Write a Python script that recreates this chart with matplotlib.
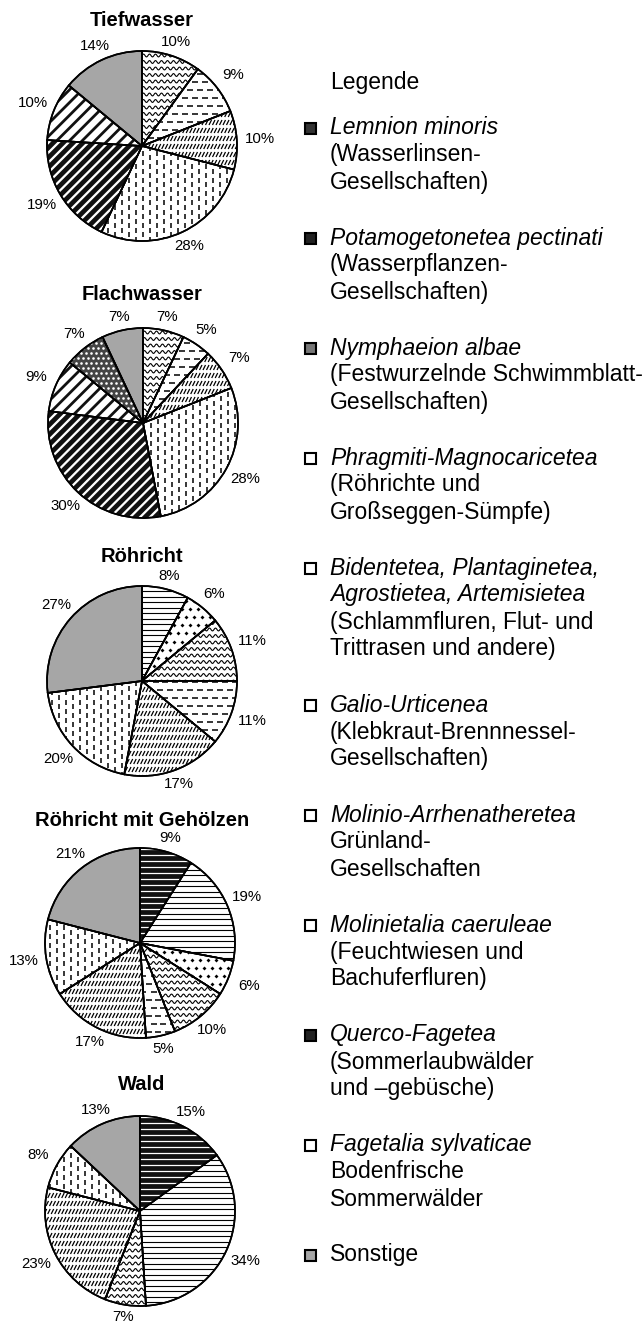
"""Vegetation classes per habitat: five hatched pies with a text legend."""

import matplotlib

matplotlib.use("Agg")
import matplotlib.pyplot as plt
import numpy as np
from matplotlib.collections import LineCollection
from matplotlib.patches import Rectangle, Wedge

plt.rcParams["font.family"] = ["Liberation Sans", "DejaVu Sans"]

# --- data ---------------------------------------------------------------
categories = [
    "Lemnion minoris",
    "Potamogetonetea pectinati",
    "Nymphaeion albae",
    "Phragmiti-Magnocaricetea",
    "Bidentetea, Plantaginetea, Agrostietea, Artemisietea",
    "Galio-Urticenea",
    "Molinio-Arrhenatheretea",
    "Molinietalia caeruleae",
    "Querco-Fagetea",
    "Fagetalia sylvaticae",
    "Sonstige",
]
# clockwise drawing order of the slices (indices into categories)
pie_order = [8, 9, 7, 6, 4, 5, 3, 1, 2, 0, 10]

titles = ["Tiefwasser", "Flachwasser", "Röhricht", "Röhricht mit Gehölzen", "Wald"]
tiefwasser = [0, 19, 10, 28, 9, 10, 10, 0, 0, 0, 14]
flachwasser = [7, 30, 9, 28, 5, 7, 7, 0, 0, 0, 7]
roehricht = [0, 0, 0, 20, 11, 17, 11, 6, 0, 8, 27]
roehricht_gehoelze = [0, 0, 0, 13, 5, 17, 10, 6, 9, 19, 21]
wald = [0, 0, 0, 8, 0, 23, 7, 0, 15, 34, 13]
series = [tiefwasser, flachwasser, roehricht, roehricht_gehoelze, wald]

legend_italic = [
    ["Lemnion minoris"],
    ["Potamogetonetea pectinati"],
    ["Nymphaeion albae"],
    ["Phragmiti-Magnocaricetea"],
    ["Bidentetea, Plantaginetea,", "Agrostietea, Artemisietea"],
    ["Galio-Urticenea"],
    ["Molinio-Arrhenatheretea"],
    ["Molinietalia caeruleae"],
    ["Querco-Fagetea"],
    ["Fagetalia sylvaticae"],
    [],
]
legend_plain = [
    ["(Wasserlinsen-", "Gesellschaften)"],
    ["(Wasserpflanzen-", "Gesellschaften)"],
    ["(Festwurzelnde Schwimmblatt-", "Gesellschaften)"],
    ["(Röhrichte und", "Großseggen-Sümpfe)"],
    ["(Schlammfluren, Flut- und", "Trittrasen und andere)"],
    ["(Klebkraut-Brennnessel-", "Gesellschaften)"],
    ["Grünland-", "Gesellschaften"],
    ["(Feuchtwiesen und", "Bachuferfluren)"],
    ["(Sommerlaubwälder", "und –gebüsche)"],
    ["Bodenfrische", "Sommerwälder"],
    ["Sonstige"],
]

# pattern per category
patterns = ["dots", "darkdiag", "whitediag", "vdash", "hdash", "slant",
            "wavy", "diamond", "darkh", "hlines", "gray"]
icon_face = ["#333333", "#222222", "#777777", "white", "white", "white",
             "white", "white", "#222222", "white", "#a6a6a6"]

# --- layout (pixels) ----------------------------------------------------
W, H = 642, 1326
R = 95.0
PX = 1.0 / R
centers = [(142, 146), (143, 423), (142, 681), (140, 943), (140, 1211)]
title_y = [20, 295, 557, 821, 1085]


def stripes(angle, spacing):
    a = np.deg2rad(angle)
    d = np.array([np.cos(a), np.sin(a)])
    n = np.array([-np.sin(a), np.cos(a)])
    segs = []
    for o in np.arange(-1.6, 1.6, spacing):
        c = o * n
        segs.append([c - 1.6 * d, c + 1.6 * d])
    return segs


def dash_rows(spacing, dash, period, vertical=False):
    segs = []
    for k, y in enumerate(np.arange(-1.1, 1.1, spacing)):
        shift = (k % 2) * period / 2
        for x in np.arange(-1.1 + shift, 1.1, period):
            p = [(x, y), (x + dash, y)]
            if vertical:
                p = [(q[1], q[0]) for q in p]
            segs.append(p)
    return segs


def fill_pattern(ax, wedge, kind):
    lc = None
    wedge.set_facecolor("white")
    if kind == "gray":
        wedge.set_facecolor("#a6a6a6")
        return
    if kind == "hlines":
        lc = LineCollection(stripes(0, 5.5 * PX), colors="black", linewidths=0.8)
    elif kind == "darkh":
        wedge.set_facecolor("#111111")
        lc = LineCollection(stripes(0, 6 * PX), colors="white", linewidths=0.9)
    elif kind == "darkdiag":
        lc = LineCollection(stripes(45, 7 * PX), colors="#111111", linewidths=3.4)
    elif kind == "whitediag":
        lc = LineCollection(stripes(45, 9 * PX), colors="#111111", linewidths=2.0)
    elif kind == "vdash":
        lc = LineCollection(dash_rows(7 * PX, 5 * PX, 9 * PX, vertical=True),
                            colors="black", linewidths=1.1)
    elif kind == "hdash":
        lc = LineCollection(dash_rows(8 * PX, 6 * PX, 10 * PX),
                            colors="black", linewidths=1.1)
    elif kind == "slant":
        segs = []
        for k, y in enumerate(np.arange(-1.1, 1.1, 8 * PX)):
            for x in np.arange(-1.1 + (k % 2) * 1.7 * PX, 1.1, 3.5 * PX):
                segs.append([(x, y - 2.5 * PX), (x + 2.5 * PX, y + 2.5 * PX)])
        lc = LineCollection(segs, colors="black", linewidths=0.9)
    elif kind == "wavy":
        xs = np.linspace(-1.1, 1.1, 600)
        segs = []
        for y in np.arange(-1.1, 1.1, 6.5 * PX):
            ys = y + 1.4 * PX * np.sin(2 * np.pi * xs / (6 * PX))
            segs.append(np.column_stack([xs, ys]))
        lc = LineCollection(segs, colors="black", linewidths=0.8)
    elif kind in ("dots", "diamond"):
        step = 5 * PX if kind == "dots" else 8 * PX
        pts = []
        for k, y in enumerate(np.arange(-1.1, 1.1, step)):
            for x in np.arange(-1.1 + (k % 2) * step / 2, 1.1, step):
                pts.append((x, y))
        pts = np.array(pts)
        if kind == "dots":
            wedge.set_facecolor("#444444")
            sc = ax.scatter(pts[:, 0], pts[:, 1], s=3.5, c="white", lw=0, zorder=2)
        else:
            sc = ax.scatter(pts[:, 0], pts[:, 1], s=4, c="black", marker="D",
                            lw=0, zorder=2)
        sc.set_clip_path(wedge)
        return
    if lc is not None:
        lc.set_zorder(2)
        ax.add_collection(lc)
        lc.set_clip_path(wedge)


fig = plt.figure(figsize=(W / 100, H / 100), dpi=100)
over = fig.add_axes([0, 0, 1, 1])
over.set_xlim(0, W)
over.set_ylim(H, 0)
over.axis("off")

half = 150
for title, vals, (cx, cy), ty in zip(titles, series, centers, title_y):
    ax = fig.add_axes([(cx - half) / W, 1 - (cy + half) / H, 2 * half / W, 2 * half / H])
    idx = [i for i in pie_order if vals[i] > 0]
    v = [vals[i] for i in idx]
    wedges, _ = ax.pie(v, startangle=90, counterclock=False, radius=1,
                       wedgeprops=dict(edgecolor="black", linewidth=1.2))
    for w, i in zip(wedges, idx):
        fill_pattern(ax, w, patterns[i])
        # outline on top of the pattern
        ax.add_patch(Wedge((0, 0), 1, w.theta1, w.theta2, facecolor="none",
                           edgecolor="black", linewidth=1.2, zorder=3))
        mid = np.deg2rad((w.theta1 + w.theta2) / 2)
        rl = 1.11 + 0.13 * abs(np.cos(mid))
        ax.text(rl * np.cos(mid), rl * np.sin(mid), f"{vals[i]}%",
                ha="center", va="center", fontsize=10.8)
    ax.set_xlim(-half * PX, half * PX)
    ax.set_ylim(-half * PX, half * PX)
    ax.set_aspect("equal")
    ax.axis("off")
    over.text(142, ty, title, ha="center", va="center", fontsize=14.5,
              fontweight="bold")

# --- legend ---------------------------------------------------------------
LINE, GAP, FS = 27, 29, 16.5
over.text(330, 83, "Legende", ha="left", va="center", fontsize=FS)
y = 128
for i in range(len(categories)):
    over.add_patch(Rectangle((305, y - 5.5), 11, 11, facecolor=icon_face[i],
                             edgecolor="black", linewidth=1.5))
    for line in legend_italic[i]:
        over.text(330, y, line, ha="left", va="center", fontsize=FS, style="italic")
        y += LINE
    for line in legend_plain[i]:
        over.text(330, y, line, ha="left", va="center", fontsize=FS)
        y += LINE
    y += GAP

fig.savefig("out.png", dpi=100)
plt.close(fig)
